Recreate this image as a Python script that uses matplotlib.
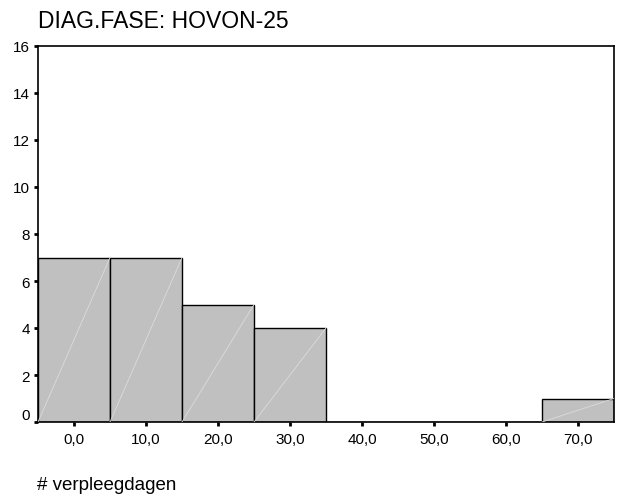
import numpy as np
import matplotlib.pyplot as plt
import matplotlib.transforms as mtransforms

plt.rcParams['font.family'] = ['Liberation Sans', 'DejaVu Sans']

# ---- Data ----
bin_centers = [0, 10, 20, 30, 40, 50, 60, 70]
counts = [7, 7, 5, 4, 0, 0, 0, 1]
bin_width = 10
x_labels = ['0,0', '10,0', '20,0', '30,0', '40,0', '50,0', '60,0', '70,0']
y_ticks = [0, 2, 4, 6, 8, 10, 12, 14, 16]

fig = plt.figure(figsize=(6.19, 5.02), dpi=100)
ax = fig.add_axes([38 / 619, 1 - 423 / 502, 576 / 619, 376 / 502])

ax.bar(bin_centers, counts, width=bin_width, color='#c0c0c0',
       edgecolor='black', linewidth=1.0, zorder=2)

# faint diagonal lines inside bars (SPSS style)
for c, v in zip(bin_centers, counts):
    if v > 0:
        ax.plot([c - bin_width / 2, c + bin_width / 2], [0, v],
                color='#dcdcdc', linewidth=0.6, zorder=3)

ax.set_xlim(-5, 75)
ax.set_ylim(0, 16)
ax.set_xticks(bin_centers)
ax.set_xticklabels(x_labels, fontsize=11)
ax.set_yticks(y_ticks)
ax.set_yticklabels([str(t) for t in y_ticks], fontsize=11)
ax.tick_params(axis='x', direction='out', length=3, width=2, pad=4)
ax.tick_params(axis='y', direction='out', length=3, width=2, pad=3)

# SPSS draws the "0" label a bit above the corner
lbl0 = ax.get_yticklabels()[0]
lbl0.set_transform(lbl0.get_transform() +
                   mtransforms.ScaledTranslation(0, 9 / 100, fig.dpi_scale_trans))

for s in ax.spines.values():
    s.set_linewidth(1.2)

fig.text(38 / 619, 1 - 22 / 502, 'DIAG.FASE: HOVON-25', fontsize=16.5,
         va='center', ha='left')
fig.text(37 / 619, 1 - 486 / 502, '# verpleegdagen', fontsize=13.5,
         va='center', ha='left')

plt.savefig('out.png', dpi=100)
